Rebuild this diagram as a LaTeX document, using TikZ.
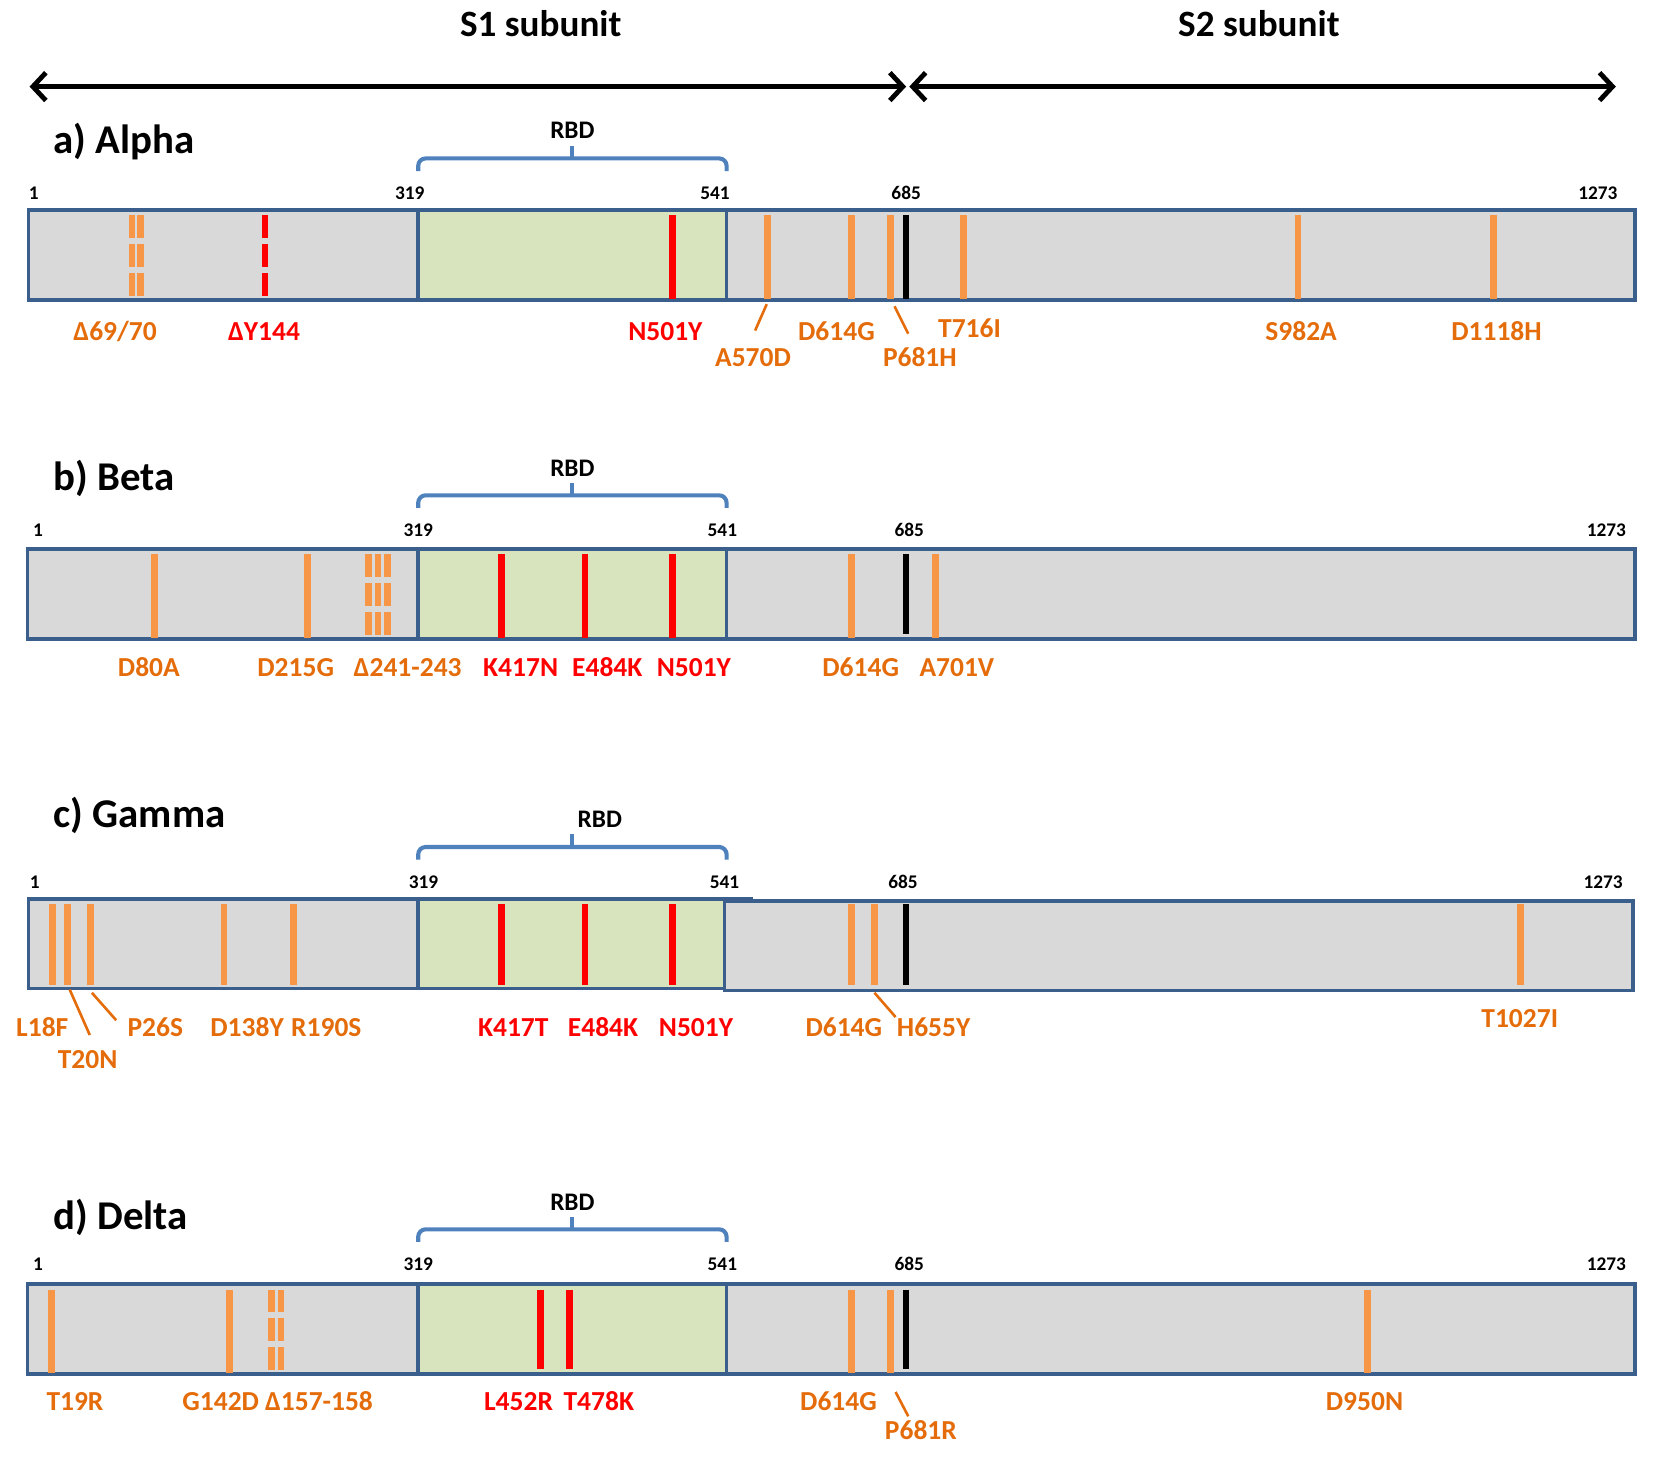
\documentclass[tikz,border=0pt]{standalone}
\usepackage{fontspec}
\setmainfont{Carlito}
\usetikzlibrary{arrows.meta}
\definecolor{barfill}{HTML}{D9D9D9}
\definecolor{rbdfill}{HTML}{D7E4BD}
\definecolor{barline}{HTML}{3A5F8C}
\definecolor{bracecol}{HTML}{4F81BD}
\definecolor{mutline}{HTML}{F79646}
\definecolor{mutlabel}{HTML}{E46C0A}
\definecolor{keyred}{HTML}{FF0000}

\begin{document}
\begin{tikzpicture}[x=0.01cm,y=-0.01cm,
    every node/.style={inner sep=0pt,anchor=base},
    paneltitle/.style={anchor=base west,font=\bfseries\fontsize{11pt}{13pt}\selectfont},
    subunit/.style={font=\bfseries\fontsize{10pt}{12pt}\selectfont},
    resnum/.style={font=\bfseries\fontsize{5.2pt}{6pt}\selectfont},
    rbdtext/.style={font=\bfseries\fontsize{6.8pt}{8pt}\selectfont},
    olab/.style={text=mutlabel,font=\bfseries\fontsize{7.4pt}{9pt}\selectfont},
    rlab/.style={olab,text=keyred},
    protbar/.style={draw=barline,line width=1pt,fill=barfill},
    rbdbar/.style={protbar,fill=rbdfill},
    rbdbrace/.style={draw=bracecol,line width=1.1pt,rounded corners=2pt},
    omut/.style={draw=mutline,line width=1.8pt},
    rmut/.style={draw=keyred,line width=1.8pt},
    cleave/.style={draw=black,line width=1.8pt},
    delgap/.style={dash pattern=on 6.1pt off 1.7pt},
    leadline/.style={draw=mutlabel,line width=0.7pt},
    spanarrow/.style={line width=1.3pt,{Straight Barb[length=3.5pt,width=7.5pt]}-{Straight Barb[length=3.5pt,width=7.5pt]}}]
\useasboundingbox (0,0) rectangle (1568,1394);

% subunits
\node[subunit] (s1) at (512,35) {S1 subunit};
\node[subunit] (s2) at (1192,35) {S2 subunit};
\coordinate (s1a) at (28,82); \coordinate (s1b) at (858,82);
\coordinate (s2a) at (861,82); \coordinate (s2b) at (1530,82);
\draw[spanarrow] (s1a) -- (s1b);
\draw[spanarrow] (s2a) -- (s2b);

% a) Alpha
\node[paneltitle] (atitle) at (50,145) {a) Alpha};
\draw[rbdbrace] (396,162) -- (396,150) -- (688,150) -- (688,162);
\draw[rbdbrace] (542,150) -- (542,138);
\node[rbdtext] (arbd) at (542,131) {RBD};
\node[resnum] (a1) at (32,189) {1};
\node[resnum] (a319) at (388,189) {319};
\node[resnum] (a541) at (677,189) {541};
\node[resnum] (a685) at (858,189) {685};
\node[resnum] (a1273) at (1513,189) {1273};
\draw[protbar] (27,199) rectangle (1548,284);
\draw[rbdbar] (396,199) rectangle (688,284);
\foreach \x in {727,806,843,912,1229,1414} \draw[omut] (\x,204) -- (\x,283);
\foreach \x in {125,133} \draw[omut,delgap] (\x,204) -- (\x,280);
\draw[rmut,delgap] (251,204) -- (251,280);
\draw[rmut] (637,204) -- (637,283);
\draw[cleave] (858,204) -- (858,283);
\node[olab] (aD69) at (109,322) {Δ69/70};
\node[rlab] (aY144) at (250,322) {ΔY144};
\node[rlab] (aN501Y) at (630,322) {N501Y};
\node[olab] (aA570D) at (713,347) {A570D};
\node[olab] (aD614G) at (792,322) {D614G};
\node[olab] (aP681H) at (871,347) {P681H};
\node[olab] (aT716I) at (918,320) {T716I};
\node[olab] (aS982A) at (1232,322) {S982A};
\node[olab] (aD1118H) at (1417,322) {D1118H};
\coordinate (aA570a) at (726,288); \coordinate (aA570b) at (715,313);
\coordinate (aP681a) at (847,290); \coordinate (aP681b) at (860,316);
\draw[leadline] (aA570a) -- (aA570b);
\draw[leadline] (aP681a) -- (aP681b);

% b) Beta
\node[paneltitle] (btitle) at (50,464) {b) Beta};
\draw[rbdbrace] (396,481) -- (396,469) -- (688,469) -- (688,481);
\draw[rbdbrace] (542,469) -- (542,457);
\node[rbdtext] (brbd) at (542,451) {RBD};
\node[resnum] (b1) at (36,508) {1};
\node[resnum] (b319) at (396,508) {319};
\node[resnum] (b541) at (684,508) {541};
\node[resnum] (b685) at (861,508) {685};
\node[resnum] (b1273) at (1521,508) {1273};
\draw[protbar] (26,520) rectangle (1548,605);
\draw[rbdbar] (396,520) rectangle (688,605);
\foreach \x in {146,291,806,886} \draw[omut] (\x,525) -- (\x,604);
\foreach \x in {349,358,367} \draw[omut,delgap] (\x,525) -- (\x,601);
\foreach \x in {475,554,637} \draw[rmut] (\x,525) -- (\x,604);
\draw[cleave] (858,525) -- (858,600);
\node[olab] (bD80A) at (141,641) {D80A};
\node[olab] (bD215G) at (280,641) {D215G};
\node[olab] (bD241) at (386,641) {Δ241-243};
\node[rlab] (bK417N) at (493,641) {K417N};
\node[rlab] (bE484K) at (575,641) {E484K};
\node[rlab] (bN501Y) at (657,641) {N501Y};
\node[olab] (bD614G) at (815,641) {D614G};
\node[olab] (bA701V) at (906,641) {A701V};

% c) Gamma
\node[paneltitle] (ctitle) at (50,784) {c) Gamma};
\draw[rbdbrace] (396,814) -- (396,802) -- (688,802) -- (688,814);
\draw[rbdbrace] (542,802) -- (542,790);
\node[rbdtext] (crbd) at (568,784) {RBD};
\node[resnum] (c1) at (33,841) {1};
\node[resnum] (c319) at (401,841) {319};
\node[resnum] (c541) at (686,841) {541};
\node[resnum] (c685) at (855,841) {685};
\node[resnum] (c1273) at (1518,841) {1273};
\draw[protbar] (686,853) rectangle (1546,938);
\draw[protbar] (27,851) rectangle (686,936);
\draw[rbdbar] (396,851) rectangle (686,936);
\draw[draw=barline,line width=1pt] (686,851) -- (713,851);
\foreach \x in {50,64,86,212,278,806,828,1440} \draw[omut] (\x,856) -- (\x,933);
\foreach \x in {475,554,637} \draw[rmut] (\x,856) -- (\x,933);
\draw[cleave] (858,856) -- (858,933);
\node[olab] (cL18F) at (40,981) {L18F};
\node[olab] (cT20N) at (83,1012) {T20N};
\node[olab] (cP26S) at (147,981) {P26S};
\node[olab] (cD138Y) at (234,981) {D138Y};
\node[olab] (cR190S) at (309,981) {R190S};
\node[rlab] (cK417T) at (486,981) {K417T};
\node[rlab] (cE484K) at (571,981) {E484K};
\node[rlab] (cN501Y) at (659,981) {N501Y};
\node[olab] (cD614G) at (799,981) {D614G};
\node[olab] (cH655Y) at (884,981) {H655Y};
\node[olab] (cT1027I) at (1439,973) {T1027I};
\coordinate (cT20a) at (66,937); \coordinate (cT20b) at (85,980);
\coordinate (cP26a) at (87,940); \coordinate (cP26b) at (110,966);
\coordinate (cH655a) at (828,940); \coordinate (cH655b) at (848,963);
\draw[leadline] (cT20a) -- (cT20b);
\draw[leadline] (cP26a) -- (cP26b);
\draw[leadline] (cH655a) -- (cH655b);

% d) Delta
\node[paneltitle] (dtitle) at (50,1164) {d) Delta};
\draw[rbdbrace] (396,1176) -- (396,1164) -- (688,1164) -- (688,1176);
\draw[rbdbrace] (542,1164) -- (542,1152);
\node[rbdtext] (drbd) at (542,1146) {RBD};
\node[resnum] (d1) at (36,1203) {1};
\node[resnum] (d319) at (396,1203) {319};
\node[resnum] (d541) at (684,1203) {541};
\node[resnum] (d685) at (861,1203) {685};
\node[resnum] (d1273) at (1521,1203) {1273};
\draw[protbar] (26,1216) rectangle (1548,1301);
\draw[rbdbar] (396,1216) rectangle (688,1301);
\foreach \x in {49,217,806,843,1295} \draw[omut] (\x,1221) -- (\x,1300);
\foreach \x in {257,266} \draw[omut,delgap] (\x,1221) -- (\x,1297);
\foreach \x in {512,539} \draw[rmut] (\x,1221) -- (\x,1296);
\draw[cleave] (858,1221) -- (858,1296);
\node[olab] (dT19R) at (71,1336) {T19R};
\node[olab] (dG142D) at (209,1336) {G142D};
\node[olab] (dD157) at (302,1336) {Δ157-158};
\node[rlab] (dL452R) at (491,1336) {L452R};
\node[rlab] (dT478K) at (567,1336) {T478K};
\node[olab] (dD614G) at (794,1336) {D614G};
\node[olab] (dP681R) at (872,1363) {P681R};
\node[olab] (dD950N) at (1292,1336) {D950N};
\coordinate (dP681a) at (848,1318); \coordinate (dP681b) at (860,1341);
\draw[leadline] (dP681a) -- (dP681b);
\end{tikzpicture}
\end{document}
